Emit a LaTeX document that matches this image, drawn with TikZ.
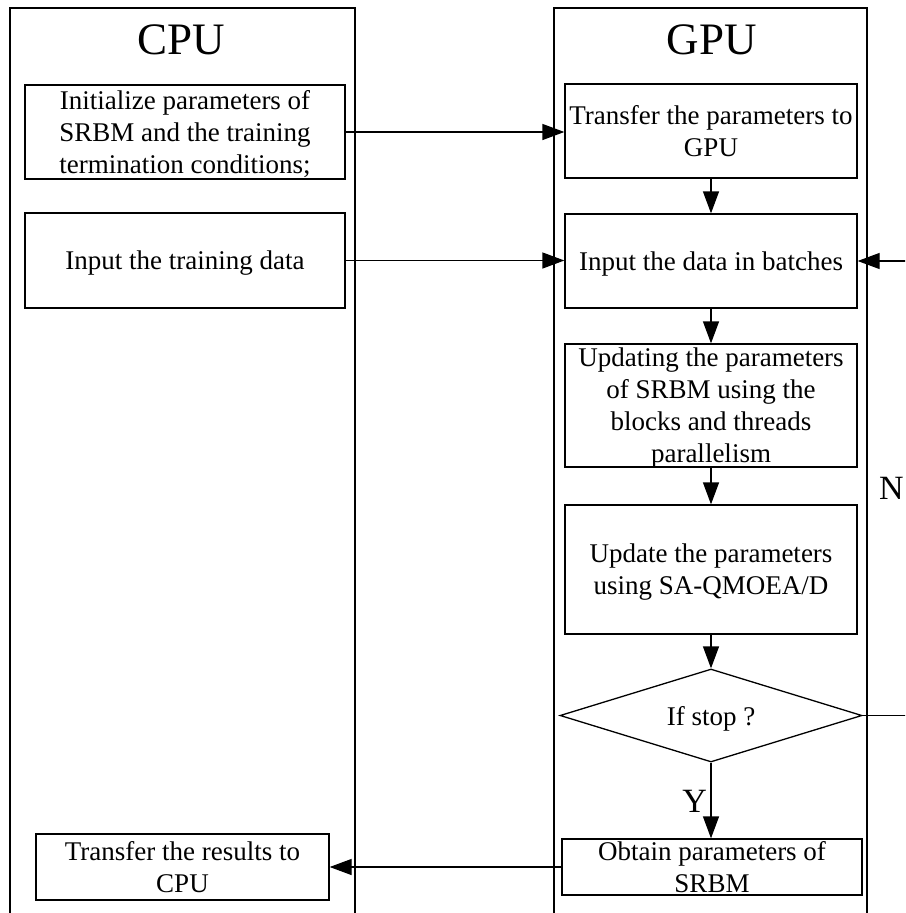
\documentclass[tikz,border=0pt]{standalone}
\usepackage{fontspec}
\setmainfont{Liberation Serif}
\usetikzlibrary{arrows.meta,shapes.geometric}

\tikzset{
  line/.style={line width=1.3pt, draw=black},
  arr/.style={line, -{Triangle[length=22pt,width=16pt]}},
  box/.style={line, rectangle, inner sep=0pt, align=center, text depth=0pt,
    font=\fontsize{27}{32}\selectfont},
  title/.style={font=\fontsize{45}{50}\selectfont},
  tag/.style={font=\fontsize{34}{40}\selectfont, inner sep=0pt},
}

\begin{document}
\begin{tikzpicture}[x=1pt,y=-1pt]
  \useasboundingbox (0,0) rectangle (905,913);
  \clip (0,0) rectangle (905,913);

  % swim lanes (open at the bottom)
  \draw[line] (10,940) -- (10,8) -- (355,8) -- (355,940);
  \draw[line] (554,940) -- (554,8) -- (867,8) -- (867,940);

  \node[title] (cpu) at (181,40) {CPU};
  \node[title] (gpu) at (712,40) {GPU};

  % CPU side
  \node[box, minimum width=320pt, minimum height=94pt] (init) at (185,132)
    {Initialize parameters of\\SRBM and the training\\termination conditions;};
  \node[box, minimum width=320pt, minimum height=95pt] (train) at (185,260.5)
    {Input the training data};
  \node[box, minimum width=293pt, minimum height=66pt] (res) at (182.5,867)
    {Transfer the results to\\CPU};

  % GPU side
  \node[box, minimum width=292pt, minimum height=94pt] (xfer) at (711,131)
    {Transfer the parameters to\\GPU};
  \node[box, minimum width=292pt, minimum height=94pt] (batch) at (711,261)
    {Input the data in batches};
  \node[box, minimum width=292pt, minimum height=123pt] (upd) at (711,405.5)
    {Updating the parameters\\of SRBM using the\\blocks and threads\\parallelism};
  \node[box, minimum width=292pt, minimum height=129pt] (sa) at (711,569.5)
    {Update the parameters\\using SA-QMOEA/D};
  \node[box, diamond, aspect=3.25, minimum width=302pt, minimum height=93pt]
    (stop) at (711,715.5) {If stop ?};
  \node[box, minimum width=300pt, minimum height=56pt] (obtain) at (712,867)
    {Obtain parameters of\\SRBM};

  % flow
  \draw[arr] (init.east) -- (init.east -| xfer.west);
  \draw[arr] (train.east) -- (train.east -| batch.west);
  \draw[arr] (xfer.south) -- (batch.north);
  \draw[arr] (batch.south) -- (upd.north);
  \draw[arr] (upd.south) -- (sa.north);
  \draw[arr] (sa.south) -- (stop.north);
  \draw[arr] (stop.south) -- (stop.south |- obtain.north);
  \draw[arr] (obtain.west) -- (obtain.west -| res.east);
  \draw[arr] (stop.east) -- ++(70,0) |- (batch.east);

  \node[tag, anchor=east] (yes) at (707,801) {Y};
  \node[tag, anchor=west] (no) at (879,488) {N};
\end{tikzpicture}
\end{document}
